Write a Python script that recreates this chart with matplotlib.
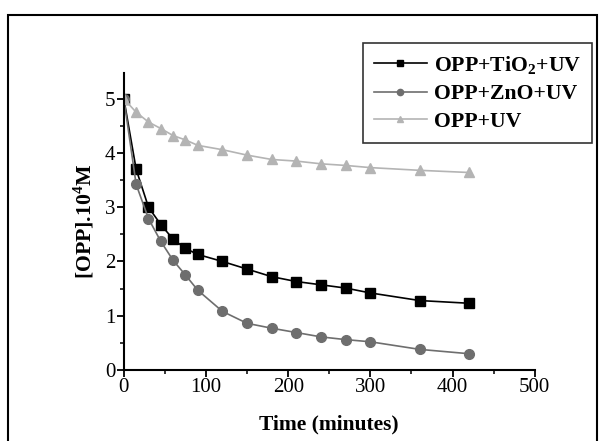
import matplotlib
matplotlib.use('Agg')
import matplotlib.pyplot as plt
from matplotlib.patches import Rectangle

plt.rcParams['font.family'] = ['Liberation Serif', 'DejaVu Serif']
plt.rcParams['mathtext.fontset'] = 'custom'
plt.rcParams['mathtext.rm'] = 'Liberation Serif'
plt.rcParams['mathtext.bf'] = 'Liberation Serif:bold'

# time (minutes)
time = [0, 15, 30, 45, 60, 75, 90, 120, 150, 180, 210, 240, 270, 300, 360, 420]
# [OPP] x 10^4 M
opp_tio2 = [5.0, 3.70, 3.00, 2.68, 2.41, 2.24, 2.13, 2.00, 1.86, 1.72, 1.63, 1.57, 1.51, 1.42, 1.28, 1.23]
opp_zno = [5.0, 3.42, 2.79, 2.37, 2.02, 1.75, 1.47, 1.08, 0.86, 0.77, 0.69, 0.61, 0.56, 0.52, 0.38, 0.30]
opp_uv = [5.0, 4.75, 4.57, 4.45, 4.32, 4.24, 4.14, 4.06, 3.96, 3.88, 3.85, 3.80, 3.77, 3.73, 3.68, 3.64]

labels = ['OPP+TiO$_{\\mathbf{2}}$+UV', 'OPP+ZnO+UV', 'OPP+UV']

fig = plt.figure(figsize=(6.07, 4.41), dpi=100)
ax = fig.add_axes([0.204, 0.161, 0.677, 0.673])

ax.plot(time, opp_tio2, color='black', marker='s', markersize=6.5, lw=1.2, label=labels[0])
ax.plot(time, opp_zno, color='#6e6e6e', marker='o', markersize=7, lw=1.2, label=labels[1])
ax.plot(time, opp_uv, color='#b4b4b4', marker='^', markersize=7, lw=1.2, label=labels[2])

ax.set_xlim(0, 500)
ax.set_ylim(0, 5.47)
ax.set_xticks([0, 100, 200, 300, 400, 500])
ax.set_xticks([50, 150, 250, 350, 450], minor=True)
ax.set_yticks([0, 1, 2, 3, 4, 5])
ax.set_yticks([0.5, 1.5, 2.5, 3.5, 4.5], minor=True)
ax.spines['top'].set_visible(False)
ax.spines['right'].set_visible(False)
ax.spines['left'].set_linewidth(1.5)
ax.spines['bottom'].set_linewidth(1.5)
ax.tick_params(axis='both', which='major', direction='out', length=5, width=1.3, labelsize=15, pad=1)
ax.tick_params(axis='both', which='minor', direction='out', length=3, width=1.1)

ax.set_xlabel('Time (minutes)', fontsize=15.5, fontweight='bold', labelpad=12)
ax.set_ylabel('[OPP].10$^{\\mathbf{4}}$M', fontsize=15.7, fontweight='bold', labelpad=6)

leg = ax.legend(loc='upper right', bbox_to_anchor=(0.976, 0.902), bbox_transform=fig.transFigure,
                prop={'weight': 'bold', 'size': 15.7}, frameon=True, fancybox=False,
                handlelength=2.4, borderpad=0.5, labelspacing=0.33, handletextpad=0.35,
                borderaxespad=0)
leg.get_frame().set_edgecolor('black')
leg.get_frame().set_linewidth(1.2)
for h in leg.legend_handles:
    h.set_markersize(4.5)

fig.patches.append(Rectangle((0.013, -0.1), 0.971, 1.066, transform=fig.transFigure,
                             fill=False, edgecolor='black', lw=1.5))

fig.savefig('out.png', dpi=100)
